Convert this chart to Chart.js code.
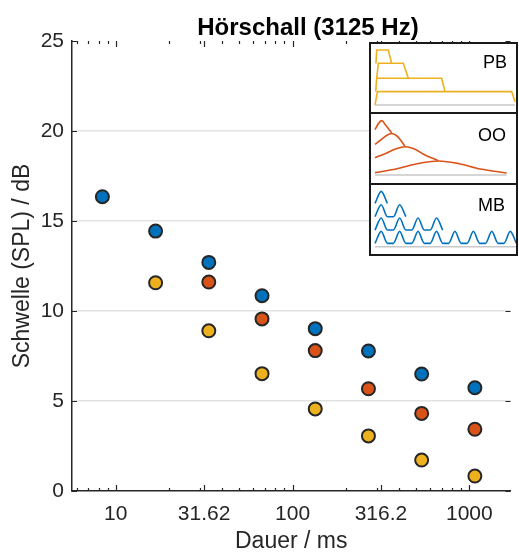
<!DOCTYPE html>
<html lang="de">
<head>
<meta charset="UTF-8"/>
<title>Hörschall (3125 Hz)</title>
<script src="https://cdn.jsdelivr.net/npm/chart.js@4.4.3/dist/chart.umd.min.js"></script>
<style>
  *{margin:0;padding:0;box-sizing:border-box}
  body{width:519px;height:552px;background:#fff;position:relative;overflow:hidden;font-family:'Liberation Sans',Arial,sans-serif}
  #main{position:absolute;left:0;top:0}
  .title{position:absolute;top:13px;left:108px;width:400px;text-align:center;font-weight:bold;font-size:24px;line-height:28px;color:#000}
  .inset{position:absolute;left:369px;width:149px;background:#fff;border:2px solid #1a1a1a}
  .inset canvas{position:absolute;left:0;top:0}
  .tag{position:absolute;font-size:18px;line-height:20px;color:#000}
</style>
</head>
<body>
<canvas id="main" width="519" height="552"></canvas>
<div class="title">Hörschall (3125 Hz)</div>

<div class="inset" style="top:42px;height:72px"><canvas id="pb" width="145" height="68"></canvas></div>
<div class="inset" style="top:112px;height:73px"><canvas id="oo" width="145" height="69"></canvas></div>
<div class="inset" style="top:183px;height:73px"><canvas id="mb" width="145" height="69"></canvas></div>
<div class="tag" style="left:483px;top:52px">PB</div>
<div class="tag" style="left:478px;top:125px">OO</div>
<div class="tag" style="left:478px;top:195px">MB</div>

<script>
// ─── Data ─────────────────────────────────────────────────────────────────────
const durations = [8.4, 16.8, 33.6, 67.2, 134.4, 268.8, 537.6, 1075.2];   // ms
const mbThresh  = [16.35, 14.44, 12.7, 10.85, 9.02, 7.78, 6.5, 5.74];
const ooThresh  = [null, null, 11.61, 9.56, 7.8, 5.68, 4.31, 3.43];
const pbThresh  = [null, 11.57, 8.9, 6.52, 4.56, 3.06, 1.72, 0.83];

const xTicks      = [10, 31.62, 100, 316.2, 1000];
const xTickLabels = ['10', '31.62', '100', '316.2', '1000'];
const xMinor      = [6, 7, 8, 9, 20, 30, 40, 50, 60, 70, 80, 90, 200, 300, 400, 500, 600, 700, 800, 900];
const yTicks      = [0, 5, 10, 15, 20, 25];

// inset sketches (x: 0..100, y: stacked levels)
const pbPulses = [
  [[0.7, 3.1], [1.2, 4.1], [9.5, 4.1], [11.9, 3.1]],
  [[1.2, 2.0], [2.4, 3.12], [20.2, 3.12], [23.8, 2.0]],
  [[0.5, 1.0], [1.2, 2.0], [47.6, 2.0], [50, 1.0]],
  [[0, 0], [1.7, 1.0], [97.6, 1.0], [100, 0.25]],
];
const ooBumps = [
  [[0, 3.4], [2.5, 3.85], [5.1, 4.08], [8, 3.75], [12.7, 3.15]],
  [[0, 2.3], [4, 2.6], [8.5, 2.95], [12.7, 3.12], [17, 2.9], [22.8, 2.15]],
  [[0, 1.3], [8, 1.62], [15.5, 1.95], [22.8, 2.12], [30, 1.95], [38, 1.5], [48.1, 1.08]],
  [[0, 0.18], [16, 0.45], [32, 0.85], [48.1, 1.05], [64, 0.85], [80, 0.45], [100, 0.15]],
];
const mbBase   = [3.25, 2.25, 1.25, 0.25];
const mbOnsets = [[0], [0, 13.1], [0, 13.1, 26.2, 39.3], [0, 13.1, 26.2, 39.3, 52.4, 65.5, 78.6, 91.7]];
const mbWidth  = 8.8, mbAmp = 0.9;
const baseline = [[0, 0], [100, 0]];

const BLUE = '#0072BD', RED = '#D95319', YELLOW = '#EDB120', INK = '#262626';

// ─── Main chart ───────────────────────────────────────────────────────────────
function series(label, vals, color) {
  const pts = [];
  durations.forEach((d, i) => { if (vals[i] != null) pts.push({x: d, y: vals[i]}); });
  return {
    label, data: pts,
    backgroundColor: color, borderColor: INK, borderWidth: 2,
    pointRadius: 6.5, pointHoverRadius: 6.5, showLine: false,
  };
}

const tickMarks = {
  id: 'tickMarks',
  beforeDatasetsDraw(chart) {
    const {ctx, chartArea: a, scales: {x, y}} = chart;
    ctx.save();
    ctx.strokeStyle = INK; ctx.lineWidth = 1.2;
    ctx.beginPath();
    const xt = (v, len) => {
      const px = Math.round(x.getPixelForValue(v)) + 0.5;
      ctx.moveTo(px, a.bottom); ctx.lineTo(px, a.bottom - len);
      ctx.moveTo(px, a.top);    ctx.lineTo(px, a.top + len);
    };
    xTicks.forEach(v => xt(v, 6));
    xMinor.forEach(v => xt(v, 3));
    yTicks.forEach(v => {
      const py = Math.round(y.getPixelForValue(v)) + 0.5;
      ctx.moveTo(a.left, py);  ctx.lineTo(a.left + 5, py);
      ctx.moveTo(a.right, py); ctx.lineTo(a.right - 5, py);
    });
    ctx.stroke();
    ctx.restore();
  }
};

new Chart(document.getElementById('main'), {
  type: 'scatter',
  data: {datasets: [
    series('MB', mbThresh, BLUE),
    series('OO', ooThresh, RED),
    series('PB', pbThresh, YELLOW),
  ]},
  options: {
    responsive: false, animation: false, devicePixelRatio: 1,
    layout: {padding: {left: 0, top: 41, right: 2, bottom: 0}},
    plugins: {legend: {display: false}, tooltip: {enabled: false}},
    scales: {
      x: {
        type: 'logarithmic', min: 5.655, max: 1710, bounds: 'data',
        afterBuildTicks: s => { s.ticks = xTicks.map(v => ({value: v})); },
        afterFit: s => { s.height = 61; },
        ticks: {
          autoSkip: false, maxRotation: 0, padding: 11, color: INK,
          font: {family: "'Liberation Sans', Arial", size: 21},
          callback: (v, i) => xTickLabels[i],
        },
        grid: {display: false, drawTicks: false},
        border: {display: true, color: INK, width: 1.5},
        title: {display: true, text: 'Dauer / ms', color: INK, padding: {top: 0, bottom: -3},
                font: {family: "'Liberation Sans', Arial", size: 23}},
      },
      y: {
        min: 0, max: 25,
        afterBuildTicks: s => { s.ticks = yTicks.map(v => ({value: v})); },
        afterFit: s => { s.width = 72; },
        ticks: {padding: 8, color: INK, font: {family: "'Liberation Sans', Arial", size: 21}},
        grid: {
          drawTicks: false, lineWidth: 1.5,
          color: c => (c.tick && c.tick.value > 0 && c.tick.value < 25) ? '#e2e2e2' : 'rgba(0,0,0,0)',
        },
        border: {display: true, color: INK, width: 1.5},
        title: {display: true, text: 'Schwelle (SPL) / dB', color: INK, padding: {top: 9, bottom: 0},
                font: {family: "'Liberation Sans', Arial", size: 23}},
      },
    },
  },
  plugins: [tickMarks],
});

// ─── Inset sketches ───────────────────────────────────────────────────────────
function sketch(id, curves, color, smooth, xr, yr) {
  const line = (pts, col, w) => ({
    data: pts.map(p => ({x: p[0], y: p[1]})), borderColor: col, borderWidth: w,
    pointRadius: 0, fill: false, cubicInterpolationMode: smooth ? 'monotone' : 'default', tension: 0,
  });
  new Chart(document.getElementById(id), {
    type: 'line',
    data: {datasets: [line(baseline, '#c8c8c8', 1.5), ...curves.map(c => line(c, color, 1.6))]},
    options: {
      responsive: false, animation: false, devicePixelRatio: 1,
      layout: {padding: 0},
      plugins: {legend: {display: false}, tooltip: {enabled: false}},
      scales: {
        x: {type: 'linear', display: false, min: xr[0], max: xr[1]},
        y: {display: false, min: yr[0], max: yr[1]},
      },
    },
  });
}

const mbCurves = mbOnsets.map((row, r) => {
  const pts = [];
  row.forEach(s => pts.push([s, mbBase[r]], [s + mbWidth / 2, mbBase[r] + mbAmp], [s + mbWidth, mbBase[r]]));
  return pts;
});

sketch('pb', pbPulses, YELLOW, false, [-2.86, 100.7], [-0.52, 4.55]);
sketch('oo', ooBumps, RED, true, [-3.04, 107.1], [-0.6, 4.58]);
sketch('mb', mbCurves, BLUE, true, [-2.84, 100.2], [-0.55, 4.63]);
</script>
</body>
</html>
